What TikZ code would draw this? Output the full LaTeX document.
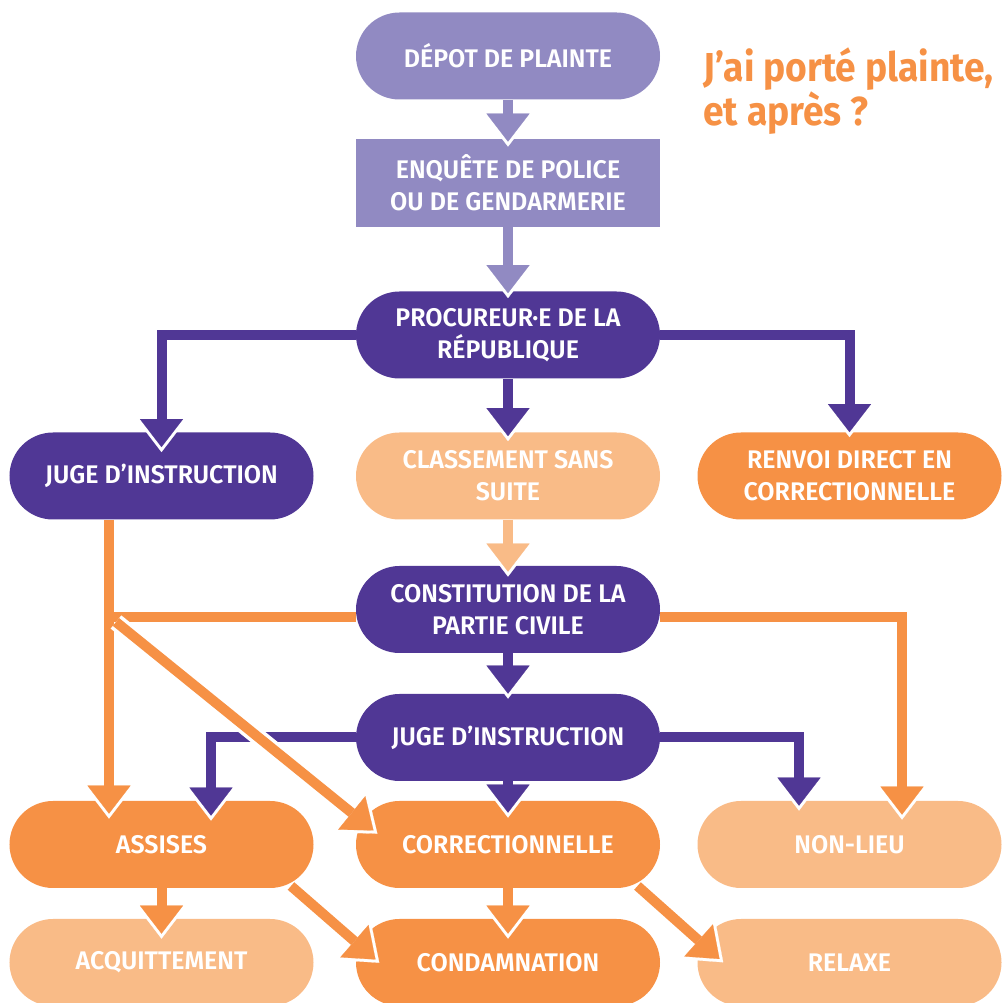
\documentclass[tikz,border=0pt]{standalone}
\usepackage{fontspec}
\usepackage{tikz}
\usetikzlibrary{arrows.meta,positioning,calc}
\newfontfamily\diafont{Fira Sans SemiBold}[FakeStretch=0.98]
\newfontfamily\headfont{Fira Sans Bold}[FakeStretch=0.92]
\definecolor{lilac}{HTML}{918AC2}
\definecolor{indigo}{HTML}{503795}
\definecolor{tangerine}{HTML}{F69145}
\definecolor{peach}{HTML}{F9BB87}

\begin{document}
\begin{tikzpicture}[
        pill/.style={rectangle,rounded corners=0.87cm,minimum width=6.08cm,minimum height=1.74cm,
          inner sep=0pt,align=center,text=white,font=\diafont\fontsize{14.5}{18}\selectfont},
        lilacpill/.style={pill,fill=lilac},
        lilacbox/.style={pill,fill=lilac,sharp corners,minimum height=1.76cm},
        indigopill/.style={pill,fill=indigo},
        tangerinepill/.style={pill,fill=tangerine},
        peachpill/.style={pill,fill=peach},
        link/.style={line width=0.2cm,-{Triangle[width=0.86cm,length=0.56cm,line width=0.1pt]},
          preaction={draw=white,line width=0.4pt,shorten >=-0.1cm,-{Triangle[width=1.01cm,length=0.66cm,line width=0.1pt]}}},
        cased/.style={preaction={draw=white,line width=0.34cm,shorten >=0.56cm,-}}]
        \useasboundingbox (0,0) rectangle (20.04,20.06);
        % nodes
        \node[lilacpill] at (10.16,18.94) (depot) {DÉPOT DE PLAINTE};
        \node[lilacbox] at (10.16,16.40) (enquete) {ENQUÊTE DE POLICE\\OU DE GENDARMERIE};
        \node[indigopill] at (10.16,13.36) (procureur) {PROCUREUR·E DE LA\\RÉPUBLIQUE};
        \node[indigopill] at (3.23,10.54) (jugeA) {JUGE D’INSTRUCTION};
        \node[peachpill] at (10.16,10.54) (classement) {CLASSEMENT SANS\\SUITE};
        \node[tangerinepill] at (16.99,10.54) (renvoi) {RENVOI DIRECT EN\\CORRECTIONNELLE};
        \node[indigopill] at (10.16,7.87) (constitution) {CONSTITUTION DE LA\\PARTIE CIVILE};
        \node[indigopill] at (10.16,5.31) (jugeB) {JUGE D’INSTRUCTION};
        \node[tangerinepill] at (3.23,3.17) (assises) {ASSISES};
        \node[tangerinepill] at (10.16,3.17) (correc) {CORRECTIONNELLE};
        \node[peachpill] at (16.99,3.17) (nonlieu) {NON-LIEU};
        \node[peachpill] at (3.23,0.81) (acquit) {ACQUITTEMENT};
        \node[tangerinepill] at (10.16,0.81) (condamn) {CONDAMNATION};
        \node[peachpill] at (16.99,0.81) (relaxe) {RELAXE};
        \node[anchor=north west,inner sep=0pt,align=left,text=tangerine,
          font=\headfont\fontsize{23}{21.6}\selectfont] at (14.06,19.12) (titre) {J’ai porté plainte,\\et après ?};
        \coordinate (fork) at (2.18,7.72);
        \coordinate (split) at (2.32,7.62);
        % links
        \draw[link,lilac] (depot) to ([yshift=-0.06cm]enquete.north);
        \draw[link,lilac] (enquete) to ([yshift=-0.04cm]procureur.north);
        \draw[link,indigo] (procureur.west) -| ([yshift=-0.3cm]jugeA.north);
        \draw[link,indigo] (procureur) to ([yshift=-0.08cm]classement.north);
        \draw[link,indigo] (procureur.east) -| (renvoi.north);
        \draw[link,peach] (classement) to ([yshift=-0.12cm]constitution.north);
        \draw[link,tangerine] ([xshift=-1.05cm]jugeA.south) to ([xshift=-1.05cm,yshift=-0.26cm]assises.north);
        \draw[line width=0.2cm,tangerine] ([yshift=-0.15cm]constitution.west) -- (fork);
        \draw[link,tangerine] ([yshift=-0.15cm]constitution.east) -| ([xshift=1.05cm,yshift=-0.28cm]nonlieu.north);
        \draw[link,indigo] (constitution) to (jugeB.north);
        \draw[link,indigo] (jugeB.west) -| ([xshift=0.99cm,yshift=-0.3cm]assises.north);
        \draw[link,indigo] (jugeB) to ([yshift=-0.24cm]correc.north);
        \draw[link,indigo] (jugeB.east) -| ([xshift=-1.01cm,yshift=-0.1cm]nonlieu.north);
        \draw[link,cased,tangerine] (split) to ([xshift=-2.69cm,yshift=0.28cm]correc.center);
        \draw[link,tangerine] (assises) to ([yshift=-0.3cm]acquit.north);
        \draw[link,tangerine] (correc) to ([yshift=-0.3cm]condamn.north);
        \draw[link,cased,tangerine] ([xshift=2.59cm,yshift=-0.83cm]assises.center) to ([xshift=-2.65cm,yshift=0.06cm]condamn.center);
        \draw[link,cased,tangerine] ([xshift=2.59cm,yshift=-0.83cm]correc.center) to ([xshift=-2.6cm,yshift=0.07cm]relaxe.center);
      \end{tikzpicture}
\end{document}
